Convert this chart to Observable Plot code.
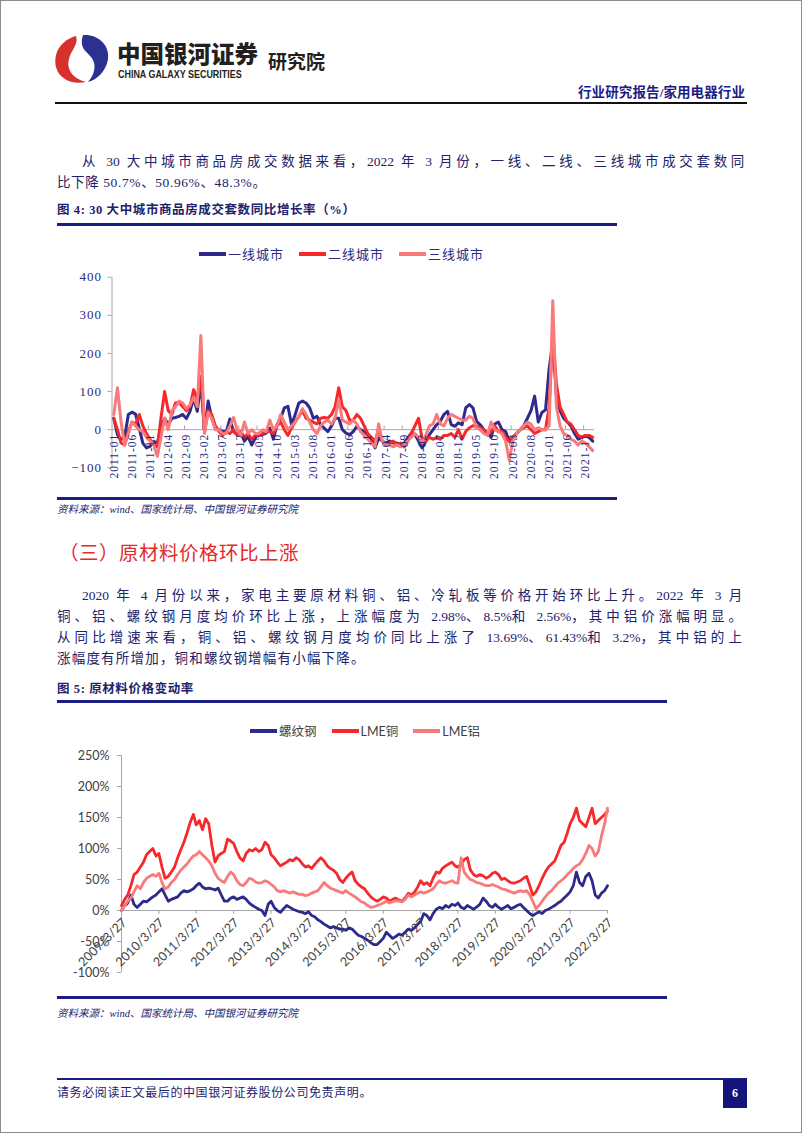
<!DOCTYPE html>
<html><head><meta charset="utf-8">
<script src="https://cdn.jsdelivr.net/npm/d3@7"></script>
<script src="https://cdn.jsdelivr.net/npm/@observablehq/plot@0.6"></script>
<style>
body{margin:0;background:#fff;}
#page{position:relative;width:802px;height:1133px;overflow:hidden;font-family:"Liberation Serif","Noto Sans CJK SC",serif;color:#22226a;}
#border{position:absolute;left:0;top:0;width:800px;height:1131px;border:1px solid #8c8c8c;}
.t{position:absolute;line-height:1;white-space:nowrap;}
.rule{position:absolute;background:#1c1c86;}
.legend{position:absolute;display:flex;align-items:center;white-space:nowrap;}
.legend .sw{width:27px;height:4px;margin-right:2px;}
#c1,#c2{position:absolute;}
#c1 text{letter-spacing:1px;}
.lat{letter-spacing:0 !important;}
</style></head>
<body><div id="page">
<div id="border"></div>
<!-- header -->
<svg style="position:absolute;left:52px;top:33px" width="60" height="52" viewBox="0 0 60 52">
  <path d="M24,3 C9,7 1,20 4,34 C7,46 20,52 34,49 C21,46 14,36 17,26 C19,17 27,11 24,3 Z" fill="#d8302c"/>
  <path d="M31,2 C46,1 58,12 56,26 C54,39 44,47 36,49 C43,41 45,31 39,24 C34,18 27,15 31,2 Z" fill="#2a3190"/>
</svg>
<div class="t" style="left:117px;top:42px;font-family:'Noto Sans CJK SC',sans-serif;font-weight:900;font-size:23.5px;color:#231f20">中国银河证券</div>
<div class="t" style="left:118px;top:70px;font-family:'Liberation Sans',sans-serif;font-weight:bold;font-size:10.4px;color:#231f20;transform:scaleX(0.86);transform-origin:left">CHINA GALAXY SECURITIES</div>
<div class="t" style="left:268px;top:51px;font-family:'Noto Sans CJK SC',sans-serif;font-weight:bold;font-size:19px;color:#231f20">研究院</div>
<div class="t fit" data-w="167" style="left:578px;top:86px;font-size:13.5px;font-weight:bold;color:#1c1c86">行业研究报告/家用电器行业</div>
<div class="rule" style="left:55px;top:102px;width:692px;height:2px;background:#111"></div>

<div class="t fit" data-w="666" style="left:82px;top:155px;font-size:13.5px">从 30 大中城市商品房成交数据来看，2022 年 3 月份，一线、二线、三线城市成交套数同</div>
<div class="t" style="left:57px;top:176px;font-size:13.5px;letter-spacing:0.6px">比下降 50.7%、50.96%、48.3%。</div>
<div class="t" style="left:57px;top:204px;font-size:12.5px;font-weight:bold;letter-spacing:0.6px">图 4:  30 大中城市商品房成交套数同比增长率（%）</div>
<div class="rule" style="left:57px;top:223px;width:560px;height:2.5px"></div>
<div class="legend" id="lg1" style="left:199px;top:244px;font-size:13px;letter-spacing:1px;color:#2a2a80"></div>
<div id="c1" style="left:57px;top:262px"></div>
<div class="rule" style="left:57px;top:497px;width:560px;height:2.5px"></div>
<div class="t" style="left:57px;top:505px;font-size:10.5px;font-style:italic">资料来源：wind、国家统计局、中国银河证券研究院</div>

<div class="t" style="left:59px;top:542px;font-size:19.5px;color:#e5282a;font-family:'Noto Sans CJK SC',sans-serif;letter-spacing:0.5px">（三）原材料价格环比上涨</div>
<div class="t fit" data-w="664" style="left:82px;top:589px;font-size:13.5px">2020 年 4 月份以来，家电主要原材料铜、铝、冷轧板等价格开始环比上升。2022 年 3 月</div>
<div class="t fit" data-w="689" style="left:57px;top:610px;font-size:13.5px">铜、铝、螺纹钢月度均价环比上涨，上涨幅度为 2.98%、8.5%和 2.56%，其中铝价涨幅明显。</div>
<div class="t fit" data-w="689" style="left:57px;top:631px;font-size:13.5px">从同比增速来看，铜、铝、螺纹钢月度均价同比上涨了 13.69%、61.43%和 3.2%，其中铝的上</div>
<div class="t" style="left:57px;top:652px;font-size:13.5px;letter-spacing:1.2px">涨幅度有所增加，铜和螺纹钢增幅有小幅下降。</div>
<div class="t" style="left:57px;top:683px;font-size:12.5px;font-weight:bold;letter-spacing:0.6px">图 5:  原材料价格变动率</div>
<div class="rule" style="left:57px;top:700px;width:610px;height:2.5px"></div>
<div class="legend" id="lg2" style="left:250px;top:721px;font-size:12.5px;color:#404040;font-family:Lato,'Noto Sans CJK SC',sans-serif"></div>
<div id="c2" style="left:57px;top:740px"></div>
<div class="rule" style="left:57px;top:996px;width:610px;height:2.5px"></div>
<div class="t" style="left:57px;top:1009px;font-size:10.5px;font-style:italic">资料来源：wind、国家统计局、中国银河证券研究院</div>

<div class="rule" style="left:57px;top:1078px;width:690px;height:1.5px"></div>
<div class="t" style="left:57px;top:1087px;font-size:12px;letter-spacing:0.6px">请务必阅读正文最后的中国银河证券股份公司免责声明。</div>
<div style="position:absolute;left:723px;top:1079px;width:24px;height:29px;background:#14147a;color:#fff;font-weight:bold;font-size:12px;display:flex;align-items:center;justify-content:center">6</div>
</div>
<script>
// ---------- Figure 4 data (monthly, 2011-01 .. 2022-01) ----------
const seriesNames1 = ["一线城市", "二线城市", "三线城市"];
const tier1 = [30,-13,-26,-20,40,46,41,4,-35,-48,-44,-31,-35,4,30,13,30,32,35,40,29,48,83,48,125,-5,75,30,4,0,-5,-5,28,-5,-13,-5,-30,-18,-40,-22,-9,-13,-9,4,-25,13,30,57,61,13,40,70,75,70,57,30,35,13,4,-5,9,30,30,0,-9,-13,-5,9,0,-5,-13,-26,-48,-22,-30,-35,-30,-35,-35,-40,-35,-22,-9,-13,-30,-48,-30,-13,0,13,22,40,48,13,9,18,13,57,66,57,22,13,0,-10,-20,15,20,0,-5,-30,-20,-10,0,10,30,50,88,20,45,52,160,230,90,50,30,20,10,-10,-25,-20,-15,-20,-30];
const tier2 = [30,0,-35,-40,-5,20,15,40,10,-10,-25,-40,-45,30,100,50,40,70,72,60,50,60,105,80,140,-5,50,40,10,-5,-15,-5,-10,0,-15,-5,-20,-10,-25,-15,-15,-10,-5,-5,-10,10,20,0,-15,5,20,35,50,30,25,20,15,30,32,30,40,60,110,60,50,25,25,40,30,10,-10,-20,-30,0,-30,-40,-35,-30,-40,-35,-45,-30,-10,10,30,-25,-30,-20,-25,-20,-25,-15,-15,-10,-20,0,-25,-5,5,10,10,5,0,-10,-5,10,-5,-5,-20,-30,-20,-10,0,5,10,0,-10,-5,0,0,60,250,120,60,40,20,15,0,-15,-20,-15,-15,-20];
const tier3 = [40,110,20,-40,-10,20,10,0,-5,-20,-30,-40,-70,-20,30,0,50,60,75,70,55,65,85,60,247,-10,45,30,0,0,-10,-10,10,32,0,-15,20,-10,0,-10,-10,0,-5,25,0,10,40,20,0,10,20,35,55,40,20,0,-10,10,20,25,15,30,80,25,20,15,25,15,-5,-15,-25,-35,-45,15,-30,-40,-40,-45,-40,-45,-40,-30,-20,-10,-20,-35,-15,10,15,40,15,10,30,40,35,30,25,25,35,30,5,0,-10,-15,20,0,-5,-10,-30,-80,-30,-10,0,10,20,15,0,5,0,0,10,338,60,10,-10,-15,-25,-30,-40,-30,-35,-45,-55];
const tickLabels1 = ["2011-01","2011-06","2011-11","2012-04","2012-09","2013-02","2013-07","2013-12","2014-05","2014-10","2015-03","2015-08","2016-01","2016-06","2016-11","2017-04","2017-09","2018-02","2018-07","2018-12","2019-05","2019-10","2020-03","2020-08","2021-01","2021-06","2021-11"];
const yTicks1 = [-100, 0, 100, 200, 300, 400];

// ---------- Figure 5 data (monthly, 2009-03 .. 2022-03, % change) ----------
const seriesNames2 = ["螺纹钢", "LME铜", "LME铝"];
const rebar = [0,8,12,25,10,5,10,15,14,18, 22,25,30,35,25,15,18,20,22,28,32,30, 32,35,40,44,38,35,36,35,33,36,25,15, 15,20,22,18,20,22,18,12,8,5,2,0, -8,10,15,5,0,-3,3,8,5,2,0,-2, -3,-5,-2,-8,-10,-15,-18,-22,-25,-28,-26,-28, -30,-30,-32,-28,-30,-35,-40,-42,-45,-48,-52,-55, -55,-50,-45,-35,-40,-45,-42,-38,-40,-35,-30,-32, -28,-22,-18,-5,-8,-15,-5,2,5,3,8,5, 10,8,12,5,3,8,5,2,6,10,20,15, 8,5,10,5,2,5,8,3,5,8,10,5, 0,-5,-8,-5,-2,-5,0,2,5,8,12,15, 20,25,30,40,62,45,40,55,60,48,25,20, 28,32,40];
const copper = [8,18,25,40,58,62,70,78,90,95, 100,88,92,70,52,55,62,70,85,98,110,125, 142,155,138,145,130,148,140,105,78,88,92,95, 115,112,108,95,85,80,92,98,96,100,95,98, 110,105,90,85,78,72,75,78,82,80,85,82, 75,70,72,68,74,80,85,80,72,68,65,60, 50,45,52,58,62,48,42,38,35,28,22,18, 15,18,22,20,15,18,20,17,15,20,28,25, 30,38,48,42,45,40,52,62,60,68,72,75, 78,72,70,75,82,85,65,58,55,58,56,52, 55,60,62,58,50,52,48,45,44,46,48,52, 55,40,25,30,40,52,62,70,75,80,92,105, 110,125,140,150,165,145,140,135,150,165,140,145, 150,155,160];
const aluminium = [0,8,15,20,30,40,35,45,52,55, 58,55,60,45,35,38,45,50,58,65,70,75, 82,88,90,95,90,85,80,72,60,52,48,45, 55,62,58,48,42,40,45,52,50,46,44,45, 48,46,42,38,32,30,32,30,28,30,28,26, 26,24,25,28,30,32,38,45,40,36,34,32, 30,28,32,28,25,22,18,14,12,8,5,6, 8,10,12,15,12,14,16,15,14,18,25,22, 25,28,30,28,30,32,35,42,48,45,44,46, 48,45,44,85,62,55,50,48,45,44,42,40, 40,42,40,38,35,34,32,30,28,30,32,30, 32,25,15,3,8,15,22,28,32,38,44,48, 52,58,62,68,72,75,82,92,105,100,88,95, 120,140,165];
const tickLabels2 = ["2009/3/27","2010/3/27","2011/3/27","2012/3/27","2013/3/27","2014/3/27","2015/3/27","2016/3/27","2017/3/27","2018/3/27","2019/3/27","2020/3/27","2021/3/27","2022/3/27"];
const yTicks2 = [-100, -50, 0, 50, 100, 150, 200, 250];

const colors = ["#2d2a8c", "#f6282a", "#f97a7a"];
const navyText = "#2a2a80";
const axisGrey = "#a6a6a6";

// fit text lines: spread only the CJK characters, keep Latin runs tight
document.querySelectorAll(".fit").forEach(el => {
  const txt = el.textContent;
  el.innerHTML = txt.replace(/[0-9A-Za-z.%\/]+/g, m => `<span class="lat">${m}</span>`);
});
function fitLines() {
  document.querySelectorAll(".fit").forEach(el => {
    const target = +el.dataset.w;
    el.style.letterSpacing = "0px";
    const w = el.getBoundingClientRect().width;
    let n = 0;
    el.childNodes.forEach(nd => { if (nd.nodeType === 3) n += [...nd.textContent].length; });
    el.style.letterSpacing = ((target - w) / n) + "px";
  });
}
fitLines();
if (document.fonts && document.fonts.ready) document.fonts.ready.then(fitLines);

// legends (HTML, placed above charts)
function legend(el, names, gap) {
  names.forEach((n, k) => {
    const item = document.createElement("div");
    item.style.display = "flex"; item.style.alignItems = "center";
    item.style.marginRight = gap + "px";
    item.innerHTML = `<div class="sw" style="background:${colors[k]}"></div><span>${n}</span>`;
    el.appendChild(item);
  });
}
legend(document.getElementById("lg1"), seriesNames1, 15);
legend(document.getElementById("lg2"), seriesNames2, 15);

// ---------- Chart 1 ----------
const rows1 = [];
[tier1, tier2, tier3].forEach((arr, s) => arr.forEach((v, i) => rows1.push({i, v, s: seriesNames1[s]})));
const n1 = tier1.length;
const labels1 = tickLabels1.map((t, k) => ({i: k * 5, t}));
const minor1 = tickLabels1.map((t, k) => k * 5 + 4.5).filter(x => x < n1 - 0.5);

const chart1 = Plot.plot({
  width: 560, height: 230,
  marginLeft: 54.5, marginRight: 23, marginTop: 14.7, marginBottom: 24.7,
  x: {domain: [-0.5, n1 - 0.5], axis: null},
  y: {domain: [-100, 400], axis: null},
  color: {domain: seriesNames1, range: colors},
  style: {background: "transparent", fontFamily: "'Liberation Serif', 'Noto Sans CJK SC', serif", overflow: "visible"},
  marks: [
    Plot.ruleX([-0.5], {y1: -100, y2: 400, stroke: axisGrey}),
    Plot.axisY({ticks: yTicks1, label: null, tickSize: 4, tickPadding: 6, stroke: axisGrey, fill: navyText, fontSize: 13}),
    Plot.ruleY([0], {stroke: axisGrey}),
    Plot.ruleX(minor1, {y1: 0, y2: 10, stroke: axisGrey}),
    Plot.line(rows1, {x: "i", y: "v", z: "s", stroke: "s", strokeWidth: 3, strokeLinejoin: "round"}),
    Plot.text(labels1, {x: "i", y: () => 0, text: "t", rotate: -90, textAnchor: "end", dy: 4, fontSize: 11.5, fill: navyText})
  ]
});
document.getElementById("c1").appendChild(chart1);

// ---------- Chart 2 ----------
const parseLabel = s => { const [y, m, d] = s.split("/").map(Number); return new Date(y, m - 1, d); };
const tickDates2 = tickLabels2.map(parseLabel);
const start2 = tickDates2[0];
const rows2 = [];
[rebar, copper, aluminium].forEach((arr, s) => arr.forEach((v, k) =>
  rows2.push({date: new Date(start2.getFullYear(), start2.getMonth() + k, 27), v, s: seriesNames2[s]})));
const labels2 = tickLabels2.map((t, k) => ({date: tickDates2[k], t}));

const chart2 = Plot.plot({
  width: 560, height: 260,
  marginLeft: 64, marginRight: 10, marginTop: 15, marginBottom: 28,
  x: {type: "time", domain: [tickDates2[0], tickDates2[tickDates2.length - 1]], axis: null},
  y: {domain: [-100, 250], axis: null},
  color: {domain: seriesNames2, range: colors},
  style: {background: "transparent", fontFamily: "Lato, 'Noto Sans CJK SC', sans-serif", overflow: "visible"},
  marks: [
    Plot.ruleX([tickDates2[0]], {y1: -100, y2: 250, stroke: axisGrey}),
    Plot.axisY({ticks: yTicks2, label: null, tickSize: 4, tickPadding: 8, tickFormat: d => d + "%", stroke: axisGrey, fill: "#404040", fontSize: 12.5}),
    Plot.ruleY([0], {stroke: axisGrey}),
    Plot.ruleX(tickDates2, {y1: 0, y2: -6, stroke: axisGrey}),
    Plot.line(rows2, {x: "date", y: "v", z: "s", stroke: "s", strokeWidth: 2.8, strokeLinejoin: "round"}),
    Plot.text(labels2, {x: "date", y: () => 0, text: "t", rotate: -45, textAnchor: "end", dx: 3, dy: 10, fontSize: 12.5, fill: "#404040"})
  ]
});
document.getElementById("c2").appendChild(chart2);
</script>
</body></html>
